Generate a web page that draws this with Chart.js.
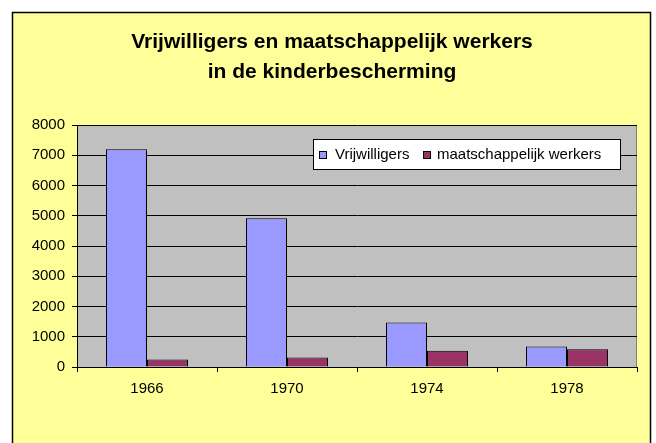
<!DOCTYPE html>
<html><head><meta charset="utf-8">
<script src="https://cdn.jsdelivr.net/npm/chart.js@4"></script>
<style>html,body{margin:0;padding:0;background:#fff;overflow:hidden}#c{display:block}</style>
</head><body><canvas id="c" width="656" height="443"></canvas>
<script>
const titleLines = ['Vrijwilligers en maatschappelijk werkers', 'in de kinderbescherming'];
const years = ['1966', '1970', '1974', '1978'];
const seriesNames = ['Vrijwilligers', 'maatschappelijk werkers'];
const vrijwilligers = [7200, 4920, 1470, 680];
const werkers = [250, 310, 540, 590];
const yMin = 0, yMax = 8000, yStep = 1000;

const FONT = '"Liberation Sans", Arial, sans-serif';

const framePlugin = {
  id: 'frame',
  beforeDraw(chart) {
    const ctx = chart.ctx, a = chart.chartArea;
    ctx.save();
    ctx.fillStyle = '#ffffff';
    ctx.fillRect(0, 0, chart.width, chart.height);
    ctx.fillStyle = '#FFFF99';
    ctx.fillRect(12, 12, 638, 440);
    ctx.strokeStyle = '#000';
    ctx.lineWidth = 1.5;
    ctx.strokeRect(12.5, 12.5, 638, 440);
    ctx.fillStyle = '#C0C0C0';
    ctx.fillRect(a.left, a.top, a.right - a.left, a.bottom - a.top);
    ctx.strokeStyle = '#808080';
    ctx.lineWidth = 1;
    ctx.beginPath();
    ctx.moveTo(Math.round(a.right) - 0.5, a.top);
    ctx.lineTo(Math.round(a.right) - 0.5, a.bottom);
    ctx.stroke();
    // title
    ctx.fillStyle = '#000';
    ctx.font = 'bold 21px ' + FONT;
    ctx.textAlign = 'center';
    ctx.textBaseline = 'middle';
    ctx.fillText(titleLines[0], 332, 42);
    ctx.fillText(titleLines[1], 332, 72);
    ctx.restore();
  },
  afterDraw(chart) {
    const ctx = chart.ctx;
    ctx.save();
    ctx.fillStyle = '#fff';
    ctx.fillRect(313, 139, 308, 31);
    ctx.strokeStyle = '#000';
    ctx.lineWidth = 1;
    ctx.strokeRect(313.5, 139.5, 307, 30);
    ctx.font = '15px ' + FONT;
    ctx.textBaseline = 'middle';
    ctx.textAlign = 'left';
    const ds = chart.data.datasets;
    const mx = [319, 423], tx = [335, 437];
    ds.forEach((d, i) => {
      ctx.fillStyle = d.backgroundColor;
      ctx.fillRect(mx[i], 151, 8, 8);
      ctx.strokeStyle = '#000';
      ctx.strokeRect(mx[i] + 0.5, 151.5, 7, 7);
      ctx.fillStyle = '#000';
      ctx.fillText(d.label, tx[i], 155);
    });
    ctx.restore();
  }
};

new Chart(document.getElementById('c'), {
  type: 'bar',
  data: {
    labels: years,
    datasets: [
      { label: seriesNames[0], data: vrijwilligers, backgroundColor: '#9999FF', borderColor: '#000', borderWidth: 1, categoryPercentage: 0.586, barPercentage: 1 },
      { label: seriesNames[1], data: werkers, backgroundColor: '#993366', borderColor: '#000', borderWidth: 1, categoryPercentage: 0.586, barPercentage: 1 }
    ]
  },
  options: {
    responsive: false,
    animation: false,
    devicePixelRatio: 1,
    layout: { padding: { left: 12, right: 19, top: 125, bottom: 26 } },
    plugins: { legend: { display: false }, title: { display: false }, tooltip: { enabled: false } },
    scales: {
      x: {
        afterFit(s) { s.height = 50; },
        grid: { display: true, drawOnChartArea: false, drawTicks: true, tickLength: 5, color: '#000', offset: true },
        border: { display: true, color: '#000', width: 1 },
        ticks: { color: '#000', font: { family: FONT, size: 15 }, padding: 8, maxRotation: 0 }
      },
      y: {
        min: yMin, max: yMax,
        afterFit(s) { s.width = 65; },
        grid: { color: '#000', lineWidth: 1, drawTicks: true, tickLength: 5 },
        border: { display: true, color: '#000', width: 1 },
        ticks: { stepSize: yStep, color: '#000', font: { family: FONT, size: 15 }, padding: 7, callback: (v) => String(v) }
      }
    }
  },
  plugins: [framePlugin]
});
</script>
</body></html>
